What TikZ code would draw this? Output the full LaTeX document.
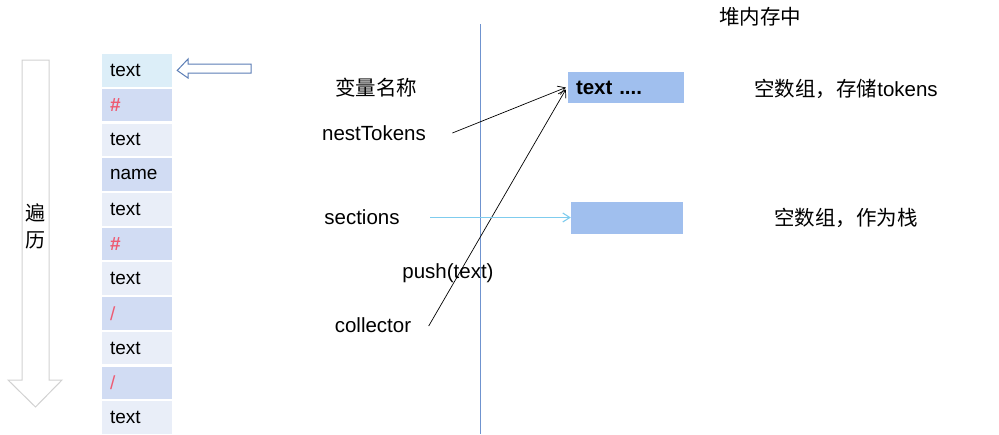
\documentclass[tikz,border=0pt]{standalone}
\usepackage{fontspec}
\setmainfont{Liberation Sans}
\newfontfamily\cjk{Noto Sans CJK SC}
\usetikzlibrary{arrows.meta}
\definecolor{cellfirst}{HTML}{DCEEF8}
\definecolor{cellpale}{HTML}{E9EEF8}
\definecolor{celldark}{HTML}{D1DCF3}
\definecolor{markred}{HTML}{EE5A72}
\definecolor{heapblue}{HTML}{A0BFEE}
\definecolor{ptrblue}{HTML}{5B7DB5}
\definecolor{divblue}{HTML}{6F93CF}
\definecolor{secblue}{HTML}{7FCCEE}
\tikzset{
  cell/.style={minimum height=32.5pt,inner ysep=0pt,inner xsep=8pt,text width=54pt,align=left,font=\fontsize{19}{22}\selectfont},
  cellA/.style={cell,fill=cellfirst},
  cellB/.style={cell,fill=cellpale},
  cellC/.style={cell,fill=celldark,text=markred,font=\fontsize{19}{22}\selectfont\bfseries},
  cellE/.style={cell,fill=celldark,text=markred},
  cellD/.style={cell,fill=celldark},
  lbl/.style={font=\fontsize{20.5}{24}\selectfont},
  heapbox/.style={fill=heapblue,inner xsep=8pt,inner ysep=0pt,align=left},
  ptr/.style={-{Straight Barb[length=7pt,width=9pt]},line width=0.7pt}
}
\begin{document}
\begin{tikzpicture}[x=1pt,y=-1pt]
  \useasboundingbox (0,0) rectangle (999,434);
  \foreach \i/\s/\t in {0/cellA/text,1/cellC/\#,2/cellB/text,3/cellD/name,4/cellB/text,
    5/cellC/\#,6/cellB/text,7/cellE/{/},8/cellB/text,9/cellE/{/},10/cellB/text}
    \node[\s] (c\i) at (137,70.5+34.7*\i) {\t};
  \draw[line width=1pt,draw=ptrblue] (251,64) -- (188,64) -- (188,59) -- ([xshift=5pt]c0.east)
    -- (188,78) -- (188,73) -- (251,73) -- cycle;
  \draw[line width=1pt,draw=black!18] (22,60) -- (49,60) -- (49,380) -- (62,380) -- (35.5,407)
    -- (8,380) -- (22,380) -- cycle;
  \node[lbl,font=\cjk\fontsize{20}{24}\selectfont] at (35.5,213) {遍};
  \node[lbl,font=\cjk\fontsize{20}{24}\selectfont] at (35.5,240) {历};
  \draw[divblue,line width=0.8pt] (480,24) -- (480,434);
  \node[lbl,font=\cjk\fontsize{20.5}{24}\selectfont] (vname) at (376,88) {变量名称};
  \node[lbl] (ntk) at (374,133) {nestTokens};
  \node[lbl] (sec) at (362,217.5) {sections};
  \node[lbl] (push) at (448,273) {push(text)};
  \node[lbl] (coll) at (373,325) {collector};
  \node[lbl,font=\cjk\fontsize{20.5}{24}\selectfont] (heap) at (760,17) {堆内存中};
  \node[heapbox,text width=100pt,minimum height=31pt,font=\fontsize{20.5}{24}\selectfont\bfseries] (tok) at (626,87.5) {text ....};
  \node[heapbox,minimum width=112pt,minimum height=32pt] (stk) at (627,217.5) {};
  \node[lbl,font=\cjk\fontsize{20.5}{24}\selectfont] (tokdesc) at (846,89) {空数组，存储\fontspec{Liberation Sans}tokens};
  \node[lbl,font=\cjk\fontsize{20.5}{24}\selectfont] (stkdesc) at (846,218) {空数组，作为栈};
  \draw[ptr] ([xshift=23pt]ntk.east) -- ([xshift=-2pt]tok.west);
  \draw[ptr] ([xshift=14pt,yshift=-1pt]coll.east) -- ([xshift=-2pt,yshift=-2pt]tok.west);
  \draw[ptr,secblue,line width=1.1pt] ([xshift=27pt]sec.east) -- (stk.west);
\end{tikzpicture}
\end{document}
